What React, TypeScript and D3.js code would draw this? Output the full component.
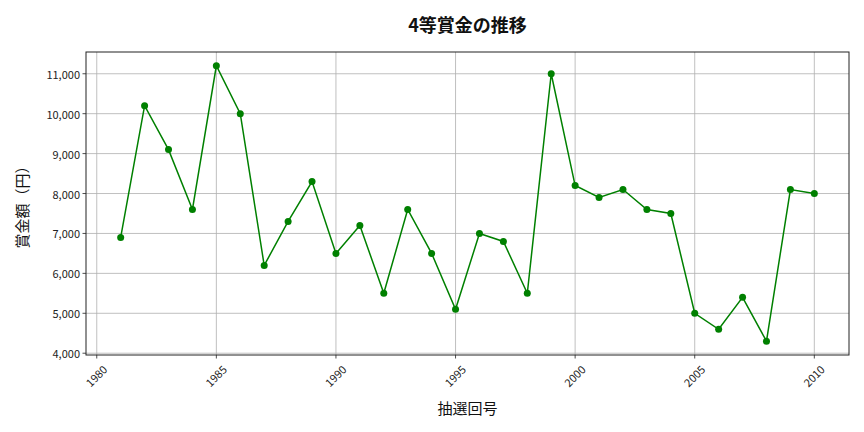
import React from "react";
import * as d3 from "d3";

const years = [1981,1982,1983,1984,1985,1986,1987,1988,1989,1990,1991,1992,1993,1994,1995,1996,1997,1998,1999,2000,2001,2002,2003,2004,2005,2006,2007,2008,2009,2010];
const prizes = [6900,10200,9100,7600,11200,10000,6200,7300,8300,6500,7200,5500,7600,6500,5100,7000,6800,5500,11000,8200,7900,8100,7600,7500,5000,4600,5400,4300,8100,8000];
const xTicks = [1980,1985,1990,1995,2000,2005,2010];
const yTicks = [4000,5000,6000,7000,8000,9000,10000,11000];
const title = "4等賞金の推移";
const xLabel = "抽選回号";
const yLabel = "賞金額（円）";

const W = 864, H = 432;
const L = 86, R = 849, T = 52, B = 355;
const FONT = "'Noto Sans CJK JP', 'Noto Sans', sans-serif";

export default function App() {
  const x = d3.scaleLinear().domain([1979.55, 2011.45]).range([L, R]);
  const y = d3.scaleLinear().domain([3955, 11545]).range([B, T]);
  const line = d3.line<number>().x((_, i) => x(years[i])).y(d => y(d));
  const fmt = d3.format(",");
  return (
    <svg width={W} height={H} style={{ position: "absolute", left: 0, top: 0, background: "#fff" }} fontFamily={FONT}>
      <rect x={0} y={0} width={W} height={H} fill="#fff" />
      {xTicks.map(t => (
        <line key={"gx" + t} x1={x(t)} x2={x(t)} y1={T} y2={B} stroke="#b0b0b0" strokeWidth={0.8} />
      ))}
      {yTicks.map(t => (
        <line key={"gy" + t} x1={L} x2={R} y1={y(t)} y2={y(t)} stroke="#b0b0b0" strokeWidth={0.8} />
      ))}
      <path d={line(prizes) || ""} fill="none" stroke="#008000" strokeWidth={1.5} />
      {prizes.map((v, i) => (
        <circle key={i} cx={x(years[i])} cy={y(v)} r={3.5} fill="#008000" />
      ))}
      <rect x={L} y={T} width={R - L} height={B - T} fill="none" stroke="#222" strokeWidth={1} />
      {xTicks.map(t => (
        <g key={"tx" + t}>
          <line x1={x(t)} x2={x(t)} y1={B} y2={B + 3.5} stroke="#222" strokeWidth={0.8} />
          <text transform={`translate(${x(t) + 4},${B + 8}) rotate(-45)`} textAnchor="end" dominantBaseline="hanging" fontSize={11} fill="#222">{t}</text>
        </g>
      ))}
      {yTicks.map(t => (
        <g key={"ty" + t}>
          <line x1={L - 3.5} x2={L} y1={y(t)} y2={y(t)} stroke="#222" strokeWidth={0.8} />
          <text x={L - 6} y={y(t)} textAnchor="end" dominantBaseline="central" fontSize={11} fill="#222">{fmt(t)}</text>
        </g>
      ))}
      <text x={(L + R) / 2} y={32} textAnchor="middle" fontSize={18} fontWeight="bold" fill="#111">{title}</text>
      <text x={(L + R) / 2} y={414} textAnchor="middle" fontSize={15} fill="#111">{xLabel}</text>
      <text transform={`translate(28,${(T + B) / 2}) rotate(-90)`} textAnchor="middle" fontSize={15} fill="#111">{yLabel}</text>
    </svg>
  );
}
